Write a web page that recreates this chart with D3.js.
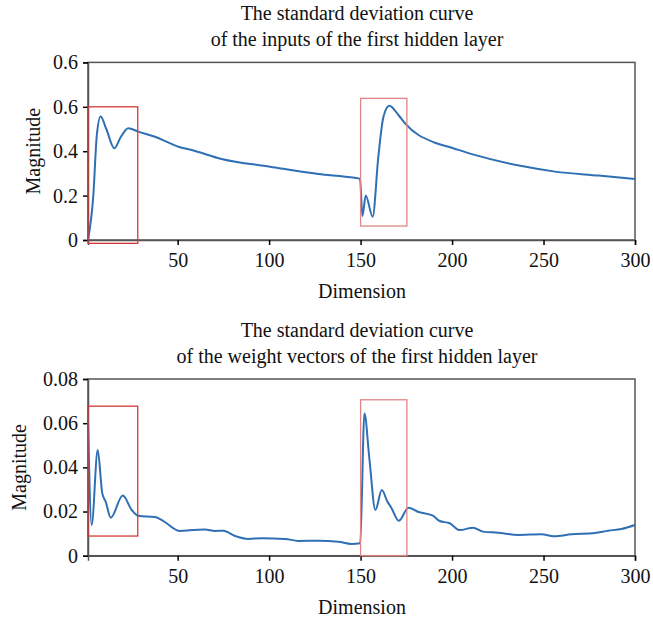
<!DOCTYPE html>
<html>
<head>
<meta charset="utf-8">
<script src="https://cdn.jsdelivr.net/npm/d3@7"></script>
<style>
  body { margin: 0; background: #fff; }
  text { font-family: "Liberation Serif", "DejaVu Serif", serif; fill: #111; }
</style>
</head>
<body>
<svg id="chart" width="653" height="618"></svg>
<script>
// ---- data ----
const xTicks = [50, 100, 150, 200, 250, 300];

// top panel: std of the inputs
const inDims = [1, 3.9, 5.8, 7.9, 11, 15.4, 19, 23, 28.5, 37.6, 50.4, 57.7, 74, 100.5, 126.9, 146.7, 149.7,
  151, 152.8, 156.6, 159.7, 162.5, 165.7, 170.7, 174.3, 190.7, 198, 210.8, 238.1, 256.3, 280, 300];
const inVals = [0, 0.2, 0.47, 0.556, 0.5, 0.413, 0.465, 0.503, 0.488, 0.465, 0.42, 0.405, 0.365, 0.33, 0.297, 0.28, 0.275,
  0.108, 0.2, 0.105, 0.375, 0.555, 0.605, 0.563, 0.525, 0.438, 0.42, 0.387, 0.333, 0.308, 0.29, 0.275];
const inTicks = [0, 0.2, 0.4, 0.6, 0.8];
const inTickLabels = ["0", "0.2", "0.4", "0.6", "0.6"];
const inBoxes = [[1, 28.2, -0.015, 0.6], [150, 175.3, 0.063, 0.638]];

// bottom panel: std of the weight vectors
const wDims = [1, 3, 6.3, 8.8, 10.7, 13.4, 20, 24.9, 28.5, 37.6, 42.2, 51.3, 57.7, 65, 70.4, 75, 81.4, 88.6, 96,
  108.7, 116, 127, 137.9, 145, 149.8, 152.1, 154.8, 158.1, 161.6, 164.5, 167, 170.9, 176.2, 181.3, 189.5, 193.2,
  198.7, 204.2, 211.4, 216.9, 225.1, 236.1, 248.9, 255.6, 265.3, 278, 285.3, 292.6, 300];
const wVals = [0.062, 0.0139, 0.0478, 0.0282, 0.0244, 0.0172, 0.0272, 0.0207, 0.0181, 0.0175, 0.0157, 0.0112, 0.0116,
  0.0119, 0.0112, 0.0113, 0.0089, 0.0076, 0.0079, 0.0076, 0.0067, 0.0068, 0.0063, 0.0053, 0.0056, 0.0644, 0.044,
  0.0207, 0.0297, 0.0248, 0.0214, 0.0158, 0.0217, 0.0199, 0.0181, 0.0157, 0.0147, 0.0116, 0.0127, 0.0109, 0.0104,
  0.0094, 0.0097, 0.0088, 0.0097, 0.0103, 0.0113, 0.0121, 0.0139];
const wTicks = [0, 0.02, 0.04, 0.06, 0.08];
const wTickLabels = ["0", "0.02", "0.04", "0.06", "0.08"];
const wBoxes = [[1, 28.2, 0.0089, 0.0677], [150, 175.3, 0, 0.0706]];

const svg = d3.select("#chart");
const left = 88, right = 635;
const boxColors = ["#d23a36", "#e08585"];

function panel(cfg) {
  const x = d3.scaleLinear().domain([1, 300]).range([left, right]);
  const y = d3.scaleLinear().domain([0, cfg.ymax]).range([cfg.bottom, cfg.top]);
  const g = svg.append("g");

  // titles
  cfg.title.forEach((t, i) => {
    g.append("text").attr("x", 357).attr("y", cfg.titleY + i * 26)
      .attr("text-anchor", "middle").attr("font-size", 20).text(t);
  });

  // frame
  g.append("rect").attr("x", left).attr("y", cfg.top)
    .attr("width", right - left).attr("height", cfg.bottom - cfg.top)
    .attr("fill", "none").attr("stroke", "#555").attr("stroke-width", 1.5);

  // axes
  const xa = g.append("g").attr("transform", `translate(0,${cfg.bottom})`)
    .call(d3.axisBottom(x).tickValues(xTicks).tickSize(5).tickPadding(8));
  const ya = g.append("g").attr("transform", `translate(${left},0)`)
    .call(d3.axisLeft(y).tickValues(cfg.ticks).tickSize(5).tickPadding(5)
      .tickFormat((d, i) => cfg.labels[i]));
  [xa, ya].forEach(a => {
    a.select(".domain").attr("stroke", "#555").attr("stroke-width", 1.5);
    a.selectAll(".tick line").attr("stroke", "#000").attr("stroke-width", 1.5);
    a.selectAll(".tick text").attr("font-size", 20).attr("fill", "#111")
      .style("font-family", '"Liberation Serif", serif');
  });

  // curve
  const line = d3.line().x((d, i) => x(cfg.dims[i])).y(d => y(d)).curve(d3.curveMonotoneX);
  g.append("path").datum(cfg.vals).attr("d", line)
    .attr("fill", "none").attr("stroke", "#2f6fb4").attr("stroke-width", 2);

  // highlight boxes
  cfg.boxes.forEach((b, i) => {
    g.append("rect").attr("x", x(b[0])).attr("y", y(b[3]))
      .attr("width", x(b[1]) - x(b[0])).attr("height", y(b[2]) - y(b[3]))
      .attr("fill", "none").attr("stroke", boxColors[i]).attr("stroke-width", 1.3);
  });

  // axis labels
  g.append("text").attr("x", 362).attr("y", cfg.bottom + 58)
    .attr("text-anchor", "middle").attr("font-size", 20).text("Dimension");
  g.append("text").attr("transform", `translate(${cfg.ylabX},${(cfg.top + cfg.bottom) / 2}) rotate(-90)`)
    .attr("text-anchor", "middle").attr("font-size", 20).text("Magnitude");
}

panel({
  title: ["The standard deviation curve", "of the inputs of the first hidden layer"],
  titleY: 20, top: 62.4, bottom: 240, ymax: 0.8, ylabX: 40,
  ticks: inTicks, labels: inTickLabels, dims: inDims, vals: inVals, boxes: inBoxes
});
panel({
  title: ["The standard deviation curve", "of the weight vectors of the first hidden layer"],
  titleY: 337, top: 379, bottom: 555.7, ymax: 0.08, ylabX: 26,
  ticks: wTicks, labels: wTickLabels, dims: wDims, vals: wVals, boxes: wBoxes
});
</script>
</body>
</html>
